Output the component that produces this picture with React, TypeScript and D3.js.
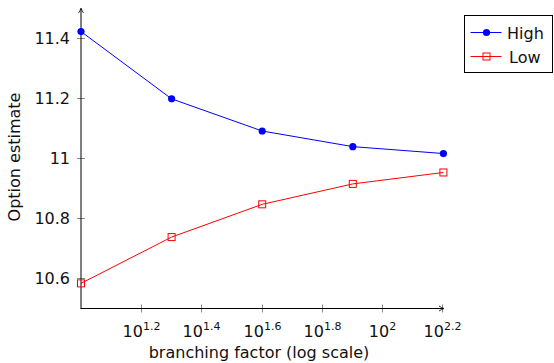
import React, { useEffect, useRef } from 'react';
import * as d3 from 'd3';

const branching = [10, 20, 40, 80, 160];
const high = [11.42, 11.196, 11.089, 11.037, 11.014];
const low = [10.582, 10.736, 10.845, 10.913, 10.951];
const xTickExps = [1.2, 1.4, 1.6, 1.8, 2, 2.2];
const yTicks = [10.6, 10.8, 11, 11.2, 11.4];
const seriesNames = ['High', 'Low'];

const W = 554;
const H = 363;
const FONT = '"DejaVu Sans", sans-serif';
const FS = '16px';

const App = () => {
  const svgRef = useRef<SVGSVGElement>(null);

  useEffect(() => {
    const svg = d3.select(svgRef.current);
    svg.selectAll('*').remove();

    const x = d3.scaleLog().domain([10, 160]).range([81, 443.4]);
    const y = d3.scaleLinear().domain([10.5, 11.4]).range([308, 37.55]);

    const axisX = 81;
    const axisY = 308.5;

    // y ticks + labels
    yTicks.forEach(t => {
      const yy = Math.round(y(t)) + 0.5;
      svg.append('line')
        .attr('x1', axisX - 4).attr('x2', axisX + 4)
        .attr('y1', yy).attr('y2', yy)
        .attr('stroke', '#888').attr('stroke-width', 1);
      svg.append('text')
        .attr('x', 70).attr('y', y(t) + 6)
        .attr('text-anchor', 'end')
        .style('font-family', FONT).style('font-size', FS).style('fill', '#111')
        .text(d3.format('~g')(t));
    });

    // x ticks + labels
    xTickExps.forEach(e => {
      const xx = Math.round(x(Math.pow(10, e))) + 0.5;
      svg.append('line')
        .attr('x1', xx).attr('x2', xx)
        .attr('y1', axisY - 4).attr('y2', axisY + 4)
        .attr('stroke', '#888').attr('stroke-width', 1);
      const txt = svg.append('text')
        .attr('x', xx).attr('y', 337)
        .attr('text-anchor', 'middle')
        .style('font-family', FONT).style('font-size', FS).style('fill', '#111');
      txt.append('tspan').text('10');
      txt.append('tspan').attr('dy', -7).style('font-size', '11px').text(String(e));
    });

    // axes with arrows
    svg.append('line')
      .attr('x1', axisX).attr('x2', axisX).attr('y1', axisY).attr('y2', 9)
      .attr('stroke', '#000').attr('stroke-width', 1);
    svg.append('path')
      .attr('d', `M${axisX - 2.5},${13} Q${axisX - 0.5},${10} ${axisX},${8} Q${axisX + 0.5},${10} ${axisX + 2.5},${13}`)
      .attr('fill', 'none').attr('stroke', '#000').attr('stroke-width', 0.8);
    svg.append('line')
      .attr('x1', axisX - 0.5).attr('x2', 443).attr('y1', axisY).attr('y2', axisY)
      .attr('stroke', '#000').attr('stroke-width', 1);
    svg.append('path')
      .attr('d', `M${439},${axisY - 2.5} Q${442},${axisY - 0.5} ${444},${axisY} Q${442},${axisY + 0.5} ${439},${axisY + 2.5}`)
      .attr('fill', 'none').attr('stroke', '#000').attr('stroke-width', 0.8);

    // axis labels
    svg.append('text')
      .attr('x', 259).attr('y', 358)
      .attr('text-anchor', 'middle')
      .style('font-family', FONT).style('font-size', FS).style('fill', '#111')
      .text('branching factor (log scale)');
    svg.append('text')
      .attr('transform', `translate(19.5,157) rotate(-90)`)
      .attr('text-anchor', 'middle')
      .style('font-family', FONT).style('font-size', FS).style('fill', '#111')
      .text('Option estimate');

    const line = d3.line<[number, number]>().x(d => x(d[0])).y(d => y(d[1]));

    // High series
    const highPts: [number, number][] = branching.map((b, i) => [b, high[i]]);
    svg.append('path').attr('d', line(highPts)).attr('fill', 'none')
      .attr('stroke', '#0000ff').attr('stroke-width', 1);
    svg.selectAll('.hi').data(highPts).enter().append('circle')
      .attr('cx', d => x(d[0])).attr('cy', d => y(d[1])).attr('r', 3.6)
      .attr('fill', '#0000ff');

    // Low series
    const lowPts: [number, number][] = branching.map((b, i) => [b, low[i]]);
    svg.append('path').attr('d', line(lowPts)).attr('fill', 'none')
      .attr('stroke', '#ff0000').attr('stroke-width', 1);
    svg.selectAll('.lo').data(lowPts).enter().append('rect')
      .attr('x', d => x(d[0]) - 3.5).attr('y', d => y(d[1]) - 3.5)
      .attr('width', 7).attr('height', 7)
      .attr('fill', 'none').attr('stroke', '#ff0000').attr('stroke-width', 1);

    // legend
    const lg = svg.append('g');
    lg.append('rect').attr('x', 464.5).attr('y', 15.5).attr('width', 88).attr('height', 57)
      .attr('fill', '#fff').attr('stroke', '#000').attr('stroke-width', 1);
    const colors = ['#0000ff', '#ff0000'];
    seriesNames.forEach((name, i) => {
      const ly = i === 0 ? 32.5 : 56.5;
      lg.append('line').attr('x1', 470.5).attr('x2', 501.5).attr('y1', ly).attr('y2', ly)
        .attr('stroke', colors[i]).attr('stroke-width', 1);
      if (i === 0) {
        lg.append('circle').attr('cx', 486.5).attr('cy', ly).attr('r', 3.6).attr('fill', colors[i]);
      } else {
        lg.append('rect').attr('x', 483).attr('y', ly - 3.5).attr('width', 7).attr('height', 7)
          .attr('fill', 'none').attr('stroke', colors[i]).attr('stroke-width', 1);
      }
      lg.append('text').attr('x', i === 0 ? 507 : 509).attr('y', ly + 6)
        .style('font-family', FONT).style('font-size', FS).style('fill', '#111')
        .text(name);
    });
  }, []);

  return (
    <svg ref={svgRef} width={W} height={H}
      style={{ position: 'absolute', left: 0, top: 0, background: '#fff' }} />
  );
};

export default App;
